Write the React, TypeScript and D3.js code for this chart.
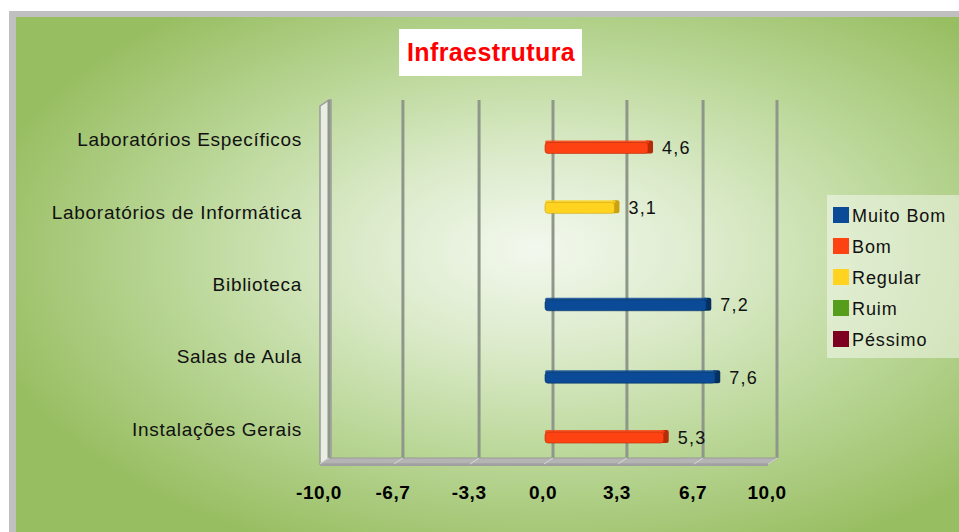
import React from "react";
import * as d3 from "d3";

const categories = [
  "Laboratórios Específicos",
  "Laboratórios de Informática",
  "Biblioteca",
  "Salas de Aula",
  "Instalações Gerais",
];
const seriesNames = ["Muito Bom", "Bom", "Regular", "Ruim", "Péssimo"];
const muitoBom: (number | null)[] = [null, null, 7.2, 7.6, null];
const bom: (number | null)[] = [4.6, null, null, null, 5.3];
const regular: (number | null)[] = [null, 3.1, null, null, null];
const ruim: (number | null)[] = [null, null, null, null, null];
const pessimo: (number | null)[] = [null, null, null, null, null];
const tickValues = [-10, -6.7, -3.3, 0, 3.3, 6.7, 10];
const tickLabels = ["-10,0", "-6,7", "-3,3", "0,0", "3,3", "6,7", "10,0"];

const seriesValues = [muitoBom, bom, regular, ruim, pessimo];
const colors = ["#0a4a96", "#ff4212", "#ffd320", "#579d1c", "#7e0021"];
const darker = ["#06305f", "#b52c08", "#c9a20e", "#3a6a12", "#50000f"];

const W = 959;
const H = 532;
const DX = 9;
const DY = -6;

export default function App() {
  const x = d3.scaleLinear().domain([-10, 10]).range([329, 777]);
  const y = d3.scaleBand<string>().domain(categories).range([102, 464]);
  const inner = d3
    .scaleBand<string>()
    .domain([...seriesNames].reverse())
    .range([-34, 28.5]);
  const fmt = (v: number) => d3.format(".1f")(v).replace(".", ",");
  const wallTop = 100;
  const floorY = 458;
  const barH = 11;

  return (
    <svg
      width={W}
      height={H}
      style={{ position: "absolute", left: 0, top: 0 }}
      fontFamily="'Liberation Sans', Arial, sans-serif"
    >
      <defs>
        <radialGradient id="bg" cx="0.57" cy="0.47" r="0.62" fx="0.55" fy="0.45">
          <stop offset="0" stopColor="#f3f8ee" />
          <stop offset="0.3" stopColor="#dcebcb" />
          <stop offset="0.62" stopColor="#bcd89a" />
          <stop offset="1" stopColor="#98be62" />
        </radialGradient>
      </defs>
      <rect x={0} y={0} width={W} height={H} fill="#ffffff" />
      <rect x={9} y={11} width={W - 9} height={H - 11} fill="#c0c0c0" />
      <rect x={16} y={17} width={W - 16} height={H - 17} fill="url(#bg)" />

      {/* title */}
      <rect x={399} y={29} width={183} height={47} fill="#ffffff" />
      <text
        x={491}
        y={61}
        textAnchor="middle"
        fontSize={25}
        letterSpacing={0.4}
        fontWeight="bold"
        fill="#ff0000"
      >
        Infraestrutura
      </text>

      {/* left wall */}
      <polygon
        points={`${x(-10) - DX},${wallTop - DY} ${x(-10)},${wallTop} ${x(-10) + 2},${wallTop} ${x(-10) + 2},${floorY} ${x(-10) - DX + 2},${floorY - DY} ${x(-10) - DX},${floorY - DY}`}
        fill="#e8eee2"
        stroke="#9a9a9a"
        strokeWidth={1.5}
      />

      {/* gridlines (back wall) */}
      {tickValues.map((t, i) => (
        <line
          key={"g" + i}
          x1={x(t)}
          x2={x(t)}
          y1={wallTop}
          y2={floorY}
          stroke="#8f978a"
          strokeWidth={3}
        />
      ))}

      {/* floor */}
      <polygon
        points={`${x(-10) - DX},${floorY - DY} ${x(-10)},${floorY} ${x(10)},${floorY} ${x(10) - DX},${floorY - DY}`}
        fill="#b4b4b4"
        stroke="#999999"
        strokeWidth={1}
      />
      <rect
        x={x(-10) - DX}
        y={floorY - DY}
        width={x(10) - x(-10)}
        height={2}
        fill="#a0a0a0"
      />
      {tickValues.map((t, i) => (
        <line
          key={"ft" + i}
          x1={x(t)}
          y1={floorY}
          x2={x(t) - DX}
          y2={floorY - DY}
          stroke="#d8d8d8"
          strokeWidth={1}
        />
      ))}

      {/* bars */}
      {seriesValues.map((vals, si) =>
        vals.map((v, ci) => {
          if (v === null) return null;
          const cy = (y(categories[ci]) as number) + y.bandwidth() / 2 + (inner(seriesNames[si]) as number) + inner.bandwidth() / 2;
          const x0 = x(0) - 8;
          const x1 = x0 + (x(v) - x(0));
          const top = cy - barH / 2;
          return (
            <g key={"b" + si + "-" + ci}>
              <path
                d={`M${x1 - 2},${top - 2} L${x1 + 3},${top - 2} Q${x1 + 5},${top - 2} ${x1 + 5},${top} L${x1 + 5},${top + barH - 2} Q${x1 + 5},${top + barH} ${x1 + 3},${top + barH} L${x1 - 2},${top + barH} Z`}
                fill={darker[si]}
              />
              <rect
                x={x0}
                y={top - 2}
                width={x1 - x0 + 1}
                height={3}
                rx={1.5}
                fill={colors[si]}
                opacity={0.85}
              />
              <rect
                x={x0}
                y={top}
                width={x1 - x0}
                height={barH}
                rx={3}
                fill={colors[si]}
                stroke={darker[si]}
                strokeWidth={0.6}
              />
              <text
                x={x1 + 14}
                y={cy + 6}
                fontSize={18}
                letterSpacing={1.2}
                fill="#111111"
              >
                {fmt(v)}
              </text>
            </g>
          );
        })
      )}

      {/* category labels */}
      {categories.map((c, i) => (
        <text
          key={"c" + i}
          x={302}
          y={(y(c) as number) + y.bandwidth() / 2 + 8}
          textAnchor="end"
          fontSize={19}
          letterSpacing={0.7}
          fill="#111111"
        >
          {c}
        </text>
      ))}

      {/* tick labels */}
      {tickValues.map((t, i) => (
        <text
          key={"t" + i}
          x={x(t) - 10}
          y={499}
          textAnchor="middle"
          fontSize={19}
          letterSpacing={0.5}
          fontWeight="bold"
          fill="#000000"
        >
          {tickLabels[i]}
        </text>
      ))}

      {/* legend */}
      <rect x={827} y={195} width={140} height={163} fill="#ffffff" opacity={0.45} />
      {seriesNames.map((s, i) => {
        const ly = 215 + i * 31;
        return (
          <g key={"l" + i}>
            <rect x={833} y={ly - 8} width={16} height={16} fill={colors[i]} />
            <text x={852} y={ly + 7} fontSize={18} letterSpacing={0.9} fill="#111111">
              {s}
            </text>
          </g>
        );
      })}
    </svg>
  );
}
